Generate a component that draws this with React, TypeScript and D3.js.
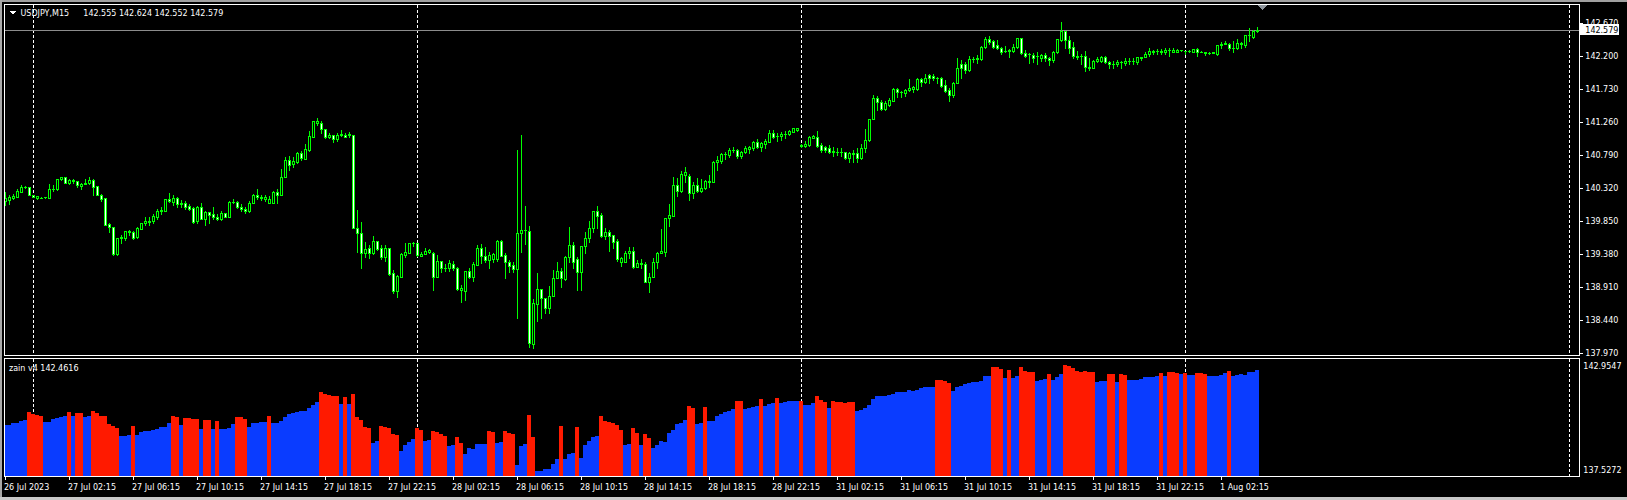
import React from 'react';
import * as d3 from 'd3';

// ---- OHLC of USDJPY M15 (bar 0 = 26 Jul 22:15) ----
const openP = [
140.144,140.153,140.182,140.201,140.272,140.334,140.334,140.220,140.177,140.187,
140.191,140.182,140.305,140.305,140.448,140.476,140.391,140.438,140.419,140.353,
140.381,140.391,140.438,140.353,140.225,140.182,139.812,139.764,139.384,139.607,
139.612,139.707,139.698,139.622,139.745,139.821,139.840,139.850,139.906,140.001,
140.001,140.163,140.125,140.177,140.096,140.115,140.068,140.039,139.850,140.049,
139.888,139.978,139.954,139.916,139.888,139.963,139.916,140.125,140.125,140.058,
140.030,139.992,140.115,140.229,140.191,140.163,140.115,140.115,140.267,140.229,
140.486,140.723,140.666,140.699,140.827,140.742,140.865,141.055,141.245,141.255,
141.160,141.046,141.074,141.027,141.074,141.084,141.074,141.074,139.750,139.688,
139.394,139.470,139.394,139.565,139.470,139.346,139.470,139.109,138.862,139.062,
139.375,139.403,139.536,139.536,139.361,139.389,139.418,139.394,139.062,139.285,
139.180,139.180,139.237,139.190,138.867,138.857,139.142,139.062,139.228,139.465,
139.361,139.299,139.313,139.313,139.569,139.370,139.275,139.228,139.171,139.679,
139.721,139.712,138.098,138.668,138.886,138.753,138.620,138.782,139.047,139.142,
139.028,139.346,139.512,139.313,139.123,139.494,139.617,139.759,139.997,139.940,
139.645,139.693,139.655,139.569,139.275,139.275,139.394,139.427,139.204,139.251,
139.237,138.981,139.062,139.266,139.394,139.408,139.902,139.930,140.367,140.281,
140.509,140.500,140.248,140.367,140.281,140.320,140.405,140.405,140.690,140.709,
140.804,140.794,140.865,140.865,140.785,140.832,140.880,140.889,140.975,140.913,
140.955,140.984,141.102,141.069,141.069,141.098,141.098,141.126,141.150,140.937,
140.927,140.937,141.041,141.055,140.937,140.908,140.899,140.842,140.842,140.842,
140.832,140.747,140.818,140.818,140.747,140.889,141.008,141.307,141.601,141.544,
141.449,141.506,141.563,141.734,141.687,141.672,141.720,141.734,141.734,141.877,
141.829,141.929,141.924,141.896,141.896,141.791,141.720,141.649,141.815,142.085,
142.085,142.005,142.161,142.161,142.161,142.337,142.446,142.418,142.361,142.313,
142.275,142.275,142.275,142.337,142.456,142.242,142.228,142.218,142.209,142.180,
142.218,142.180,142.147,142.256,142.432,142.560,142.432,142.337,142.209,142.209,
142.209,142.052,142.038,142.133,142.133,142.195,142.123,142.085,142.085,142.114,
142.100,142.133,142.133,142.123,142.190,142.195,142.228,142.270,142.275,142.266,
142.256,142.290,142.266,142.256,142.285,142.275,142.280,142.266,142.304,142.266,
142.256,142.242,142.242,142.228,142.361,142.370,142.370,142.323,142.323,142.385,
142.361,142.503,142.479,142.555];

const highP = [
140.272,140.225,140.234,140.305,140.362,140.357,140.343,140.229,140.210,140.191,
140.196,140.381,140.362,140.457,140.486,140.486,140.448,140.457,140.429,140.400,
140.448,140.476,140.448,140.353,140.239,140.187,139.831,139.764,139.612,139.650,
139.717,139.726,139.707,139.774,139.831,139.906,139.906,139.954,140.030,140.049,
140.163,140.248,140.225,140.191,140.153,140.139,140.096,140.058,140.068,140.106,
139.992,139.987,140.049,139.954,139.992,139.973,140.144,140.172,140.144,140.096,
140.058,140.134,140.239,140.315,140.229,140.220,140.210,140.277,140.315,140.590,
140.770,140.780,140.770,140.837,140.846,140.951,141.131,141.274,141.321,141.274,
141.169,141.112,141.084,141.103,141.150,141.103,141.122,141.084,140.011,139.840,
139.555,139.508,139.641,139.574,139.517,139.508,139.470,139.156,139.090,139.394,
139.546,139.536,139.555,139.536,139.408,139.465,139.455,139.408,139.370,139.285,
139.237,139.299,139.285,139.204,138.943,139.142,139.190,139.275,139.512,139.522,
139.484,139.418,139.394,139.584,139.584,139.394,139.299,139.275,140.865,141.079,
140.073,139.788,138.743,139.109,138.886,138.753,138.933,139.156,139.275,139.180,
139.361,139.769,139.551,139.346,139.494,139.693,139.854,139.997,140.063,139.963,
139.750,139.726,139.655,139.598,139.341,139.427,139.489,139.489,139.299,139.313,
139.266,139.109,139.323,139.418,139.740,139.892,140.092,140.486,140.471,140.566,
140.628,140.519,140.405,140.462,140.452,140.438,140.509,140.709,140.785,140.818,
140.842,140.899,140.908,140.880,140.851,140.927,140.927,140.994,141.022,140.984,
141.022,141.150,141.150,141.102,141.117,141.136,141.150,141.183,141.183,140.946,
140.994,141.069,141.079,141.136,140.960,140.927,140.937,140.913,140.889,140.889,
140.842,140.842,140.865,140.899,140.946,141.165,141.307,141.649,141.639,141.577,
141.563,141.601,141.744,141.753,141.706,141.734,141.877,141.782,141.886,141.886,
141.943,141.943,141.943,141.910,141.910,141.862,141.753,141.829,142.171,142.147,
142.123,142.209,142.195,142.218,142.351,142.479,142.494,142.432,142.432,142.337,
142.351,142.304,142.370,142.465,142.465,142.290,142.242,142.242,142.256,142.228,
142.242,142.195,142.275,142.446,142.693,142.560,142.494,142.408,142.275,142.228,
142.275,142.180,142.147,142.195,142.209,142.209,142.133,142.133,142.147,142.133,
142.171,142.180,142.171,142.195,142.195,142.256,142.313,142.290,142.304,142.304,
142.313,142.313,142.313,142.304,142.290,142.280,142.290,142.304,142.313,142.275,
142.256,142.256,142.256,142.361,142.399,142.418,142.385,142.418,142.446,142.399,
142.503,142.598,142.574,142.624];

const lowP = [
140.082,140.096,140.163,140.191,140.267,140.324,140.220,140.191,140.172,140.182,
140.187,140.182,140.286,140.300,140.438,140.391,140.386,140.400,140.334,140.305,
140.376,140.381,140.220,140.220,140.144,139.802,139.702,139.375,139.375,139.546,
139.584,139.655,139.593,139.612,139.740,139.802,139.802,139.831,139.888,139.954,
140.001,140.125,140.087,140.049,140.049,140.020,140.011,139.821,139.821,139.878,
139.797,139.831,139.888,139.869,139.869,139.906,139.916,140.106,140.039,140.001,
139.973,139.982,140.115,140.163,140.153,140.144,140.106,140.115,140.115,140.220,
140.486,140.581,140.619,140.685,140.723,140.732,140.856,141.055,141.221,141.103,
141.036,141.036,140.979,140.989,141.065,141.046,141.046,139.750,139.418,139.185,
139.337,139.327,139.384,139.441,139.318,139.289,139.090,138.834,138.767,139.062,
139.346,139.403,139.498,139.361,139.361,139.380,139.399,138.872,139.062,139.123,
139.142,139.142,139.152,138.876,138.696,138.729,139.038,139.000,139.228,139.251,
139.266,139.190,139.266,139.285,139.361,139.047,139.133,139.133,138.468,139.418,
139.522,138.065,138.041,138.430,138.478,138.539,138.539,138.782,139.047,138.919,
139.014,139.275,139.180,138.872,138.872,139.394,139.551,139.693,139.750,139.631,
139.598,139.427,139.465,139.285,139.218,139.266,139.323,139.190,139.204,139.190,
138.981,138.848,139.062,139.190,139.394,139.361,139.788,139.930,140.215,140.272,
140.414,140.153,140.187,140.272,140.272,140.310,140.343,140.405,140.581,140.675,
140.737,140.770,140.842,140.747,140.756,140.823,140.818,140.865,140.899,140.851,
140.889,140.975,141.041,140.994,141.008,141.041,141.079,141.117,141.136,140.913,
140.908,140.927,141.031,140.913,140.842,140.842,140.818,140.785,140.794,140.785,
140.737,140.690,140.699,140.699,140.737,140.832,140.994,141.307,141.435,141.435,
141.435,141.497,141.563,141.625,141.625,141.639,141.706,141.687,141.720,141.782,
141.815,141.815,141.862,141.815,141.767,141.687,141.563,141.625,141.815,141.886,
141.957,141.990,142.123,142.100,142.147,142.323,142.370,142.323,142.304,142.228,
142.256,142.195,142.256,142.323,142.228,142.195,142.100,142.114,142.085,142.133,
142.133,142.076,142.114,142.242,142.418,142.323,142.242,142.171,142.161,142.085,
141.990,142.005,142.038,142.114,142.123,142.100,142.038,142.038,142.066,142.038,
142.076,142.085,142.085,142.085,142.147,142.190,142.209,142.228,142.228,142.228,
142.228,142.209,142.256,142.256,142.280,142.228,142.266,142.266,142.209,142.256,
142.218,142.228,142.242,142.218,142.313,142.370,142.290,142.256,142.304,142.313,
142.337,142.418,142.456,142.552];

const closeP = [
140.177,140.191,140.210,140.282,140.334,140.334,140.229,140.201,140.206,140.187,
140.191,140.305,140.315,140.448,140.476,140.391,140.438,140.429,140.362,140.381,
140.400,140.438,140.343,140.220,140.163,139.802,139.774,139.384,139.612,139.631,
139.707,139.698,139.612,139.754,139.821,139.850,139.850,139.925,139.992,140.011,
140.163,140.134,140.177,140.096,140.106,140.058,140.020,139.840,140.049,139.888,
139.982,139.944,139.906,139.888,139.963,139.916,140.125,140.125,140.049,140.020,
139.992,140.115,140.229,140.191,140.182,140.191,140.172,140.267,140.229,140.486,
140.723,140.647,140.713,140.818,140.751,140.875,141.065,141.274,141.274,141.160,
141.046,141.074,141.027,141.074,141.093,141.055,141.093,139.750,139.688,139.403,
139.451,139.394,139.565,139.460,139.337,139.470,139.099,138.853,139.071,139.384,
139.413,139.536,139.536,139.365,139.385,139.427,139.436,139.062,139.285,139.180,
139.180,139.256,139.190,138.886,138.905,139.142,139.062,139.237,139.465,139.361,
139.299,139.370,139.380,139.569,139.361,139.275,139.218,139.171,139.679,139.721,
139.726,138.112,138.682,138.886,138.763,138.620,138.782,139.047,139.142,139.038,
139.346,139.512,139.266,139.123,139.494,139.617,139.759,139.997,139.930,139.645,
139.693,139.645,139.560,139.313,139.323,139.394,139.427,139.204,139.251,139.242,
138.981,139.062,139.266,139.394,139.427,139.892,139.940,140.367,140.281,140.519,
140.547,140.248,140.367,140.281,140.320,140.424,140.424,140.690,140.723,140.804,
140.804,140.865,140.870,140.785,140.832,140.899,140.908,140.975,140.913,140.960,
140.994,141.102,141.055,141.064,141.098,141.098,141.136,141.174,141.174,140.920,
140.955,141.055,141.069,140.927,140.865,140.865,140.832,140.856,140.842,140.837,
140.747,140.818,140.813,140.747,140.889,141.008,141.307,141.601,141.544,141.449,
141.530,141.577,141.734,141.687,141.687,141.720,141.753,141.767,141.877,141.829,
141.886,141.896,141.891,141.896,141.782,141.706,141.649,141.815,142.038,142.038,
142.005,142.161,142.166,142.180,142.337,142.446,142.408,142.337,142.313,142.266,
142.270,142.290,142.337,142.456,142.242,142.209,142.228,142.180,142.209,142.218,
142.171,142.147,142.266,142.446,142.560,142.432,142.323,142.209,142.195,142.209,
142.052,142.038,142.133,142.161,142.195,142.114,142.085,142.085,142.123,142.114,
142.133,142.133,142.128,142.190,142.175,142.237,142.275,142.266,142.275,142.275,
142.290,142.290,142.294,142.290,142.285,142.275,142.280,142.304,142.256,142.266,
142.242,142.242,142.256,142.361,142.370,142.385,142.313,142.323,142.385,142.375,
142.503,142.503,142.560,142.579];

// ---- "zain v4" histogram ----
const indVal = [
139.90,139.90,139.99,139.99,140.07,140.11,140.49,140.40,140.36,140.31,
140.03,140.03,140.17,140.22,140.26,140.31,140.49,140.31,140.45,140.45,
140.26,140.31,140.54,140.45,140.31,140.31,139.94,139.85,139.76,139.39,
139.39,139.42,139.85,139.44,139.58,139.62,139.62,139.67,139.71,139.79,
139.79,139.99,140.31,140.25,139.90,140.22,140.22,140.17,140.17,139.71,
140.13,140.13,139.71,140.08,139.71,139.71,139.76,139.94,140.26,140.26,
140.17,139.81,139.99,139.99,140.03,140.03,140.31,139.99,139.99,140.08,
140.26,140.40,140.45,140.49,140.54,140.54,140.68,140.81,140.95,141.41,
141.32,141.27,141.23,141.23,140.86,141.18,140.86,141.32,140.26,140.13,
139.81,139.76,139.07,139.16,139.85,139.81,139.76,139.48,139.44,138.71,
138.98,139.12,139.26,139.76,139.67,139.16,139.21,139.62,139.58,139.48,
139.39,138.93,138.98,139.35,139.07,138.57,138.84,138.80,139.03,139.03,
139.03,139.62,139.58,139.09,139.12,139.62,139.53,139.48,138.06,138.93,
139.03,140.36,139.35,137.79,137.79,137.88,137.88,138.11,138.34,139.85,
138.34,138.57,138.61,139.81,138.39,138.98,139.16,139.35,139.39,140.31,
140.08,140.03,139.99,139.90,139.67,138.98,139.03,139.76,139.53,138.98,
139.48,139.30,138.84,138.98,139.16,139.12,139.53,139.67,139.94,139.99,
140.13,140.77,140.68,139.94,139.99,140.72,140.08,140.08,140.31,140.40,
140.49,140.54,140.63,140.99,140.99,140.63,140.68,140.72,140.77,141.09,
140.77,140.84,140.91,141.13,140.91,140.95,140.98,140.99,140.99,140.99,
140.81,140.81,140.91,141.23,141.04,140.95,140.68,140.99,140.95,140.95,
140.91,140.95,140.95,140.54,140.59,140.68,140.81,141.09,141.23,141.23,
141.23,141.27,141.32,141.41,141.41,141.41,141.50,141.46,141.50,141.58,
141.62,141.64,141.64,141.96,141.96,141.91,141.82,141.46,141.64,141.69,
141.78,141.82,141.87,141.87,141.91,142.14,142.14,142.56,142.56,142.46,
142.05,142.42,142.05,142.14,142.56,142.37,142.33,142.33,141.91,141.96,
142.01,142.23,141.96,142.10,142.23,142.65,142.60,142.51,142.37,142.33,
142.37,142.33,142.33,141.87,141.91,141.91,142.23,142.23,141.87,142.23,
142.19,141.96,141.96,141.96,142.01,142.10,142.10,142.10,142.14,142.28,
142.14,142.33,142.33,142.28,142.23,142.28,142.19,142.19,142.28,142.28,
142.23,142.14,142.14,142.14,142.19,142.28,142.37,142.14,142.19,142.23,
142.19,142.33,142.33,142.42];

// R = red buffer, B = blue buffer
const indColor =
  'BBBBBBRRRR' + 'BBBBBBRBRR' + 'BBRRRRRRRB' + 'BBRBBBBBBB' + 'BBRRBRRRRB' +
  'RRBRBBBBRR' + 'RBBBBBRBBB' + 'BBBBBBBBBR' + 'RRRRBRBRRR' + 'RRBBRRRRRB' +
  'BBBRRBBRRR' + 'RBBRRBBBBB' + 'BRRBBRRRBB' + 'BRRBBBBBBR' + 'BBBRBBBBBR' +
  'RRRRRBBRRB' + 'RRBBBBBBBB' + 'BRRBBRBBBB' + 'BBBRRBBBBR' + 'BBBRBBBBBR' +
  'BBBRRRBRRR' + 'RRRBBBBBBB' + 'BBBBBBBBBB' + 'BBBRRRRBBB' + 'BBBBBBBRRR' +
  'BRBBRRRRBB' + 'BRBBBRRRRR' + 'RRRBBBRRBR' + 'RBBBBBBBBR' + 'BRRRBRBBRR' +
  'RBBBBBRBBB' + 'BBBB';

const priceTicks = [142.67, 142.2, 141.73, 141.26, 140.79, 140.32, 139.85, 139.38, 138.91, 138.44, 137.97];
const timeLabels = ['26 Jul 2023', '27 Jul 02:15', '27 Jul 06:15', '27 Jul 10:15', '27 Jul 14:15',
  '27 Jul 18:15', '27 Jul 22:15', '28 Jul 02:15', '28 Jul 06:15', '28 Jul 10:15', '28 Jul 14:15',
  '28 Jul 18:15', '28 Jul 22:15', '31 Jul 02:15', '31 Jul 06:15', '31 Jul 10:15', '31 Jul 14:15',
  '31 Jul 18:15', '31 Jul 22:15', '1 Aug 02:15'];
const timeLabelBars = [0, 16, 32, 48, 64, 80, 96, 112, 128, 144, 160, 176, 192, 208, 224, 240, 256, 272, 288, 304];
const separatorBars = [7, 103, 199, 295, 391];
const indMax = 142.9547;
const indMin = 137.5272;
const lastPrice = 142.579;

const GREEN = '#00ff00';
const BLUE = '#0a3cff';
const RED = '#ff1a00';
const FONT = '"DejaVu Sans", Verdana, sans-serif';

export default function App() {
  const W = 1627, H = 500;
  const N = closeP.length;
  const x = d3.scaleLinear().domain([0, N - 1]).range([5, 5 + 4 * (N - 1)]);
  const y = d3.scaleLinear().domain([137.97, 142.67]).range([353.3, 23.3]);
  const yi = d3.scaleLinear().domain([indMin, indMax]).range([476.7, 358.3]);

  const candles = d3.range(N).map(i => {
    const c = Math.round(x(i));
    const yo = Math.round(y(openP[i]));
    const yc = Math.round(y(closeP[i]));
    const yh = Math.round(y(highP[i]));
    const yl = Math.round(y(lowP[i]));
    const top = Math.min(yo, yc), bot = Math.max(yo, yc);
    const bull = closeP[i] >= openP[i];
    return (
      <g key={i}>
        <rect x={c} y={yh} width={1} height={Math.max(1, yl - yh + 1)} fill={GREEN} />
        {bot - top < 1 ? (
          <rect x={c - 1} y={yo} width={3} height={1} fill={GREEN} />
        ) : (
          <rect x={c - 0.5} y={top + 0.5} width={2} height={bot - top} fill={bull ? '#000' : '#fff'} stroke={GREEN} strokeWidth={1} />
        )}
      </g>
    );
  });

  const hist = d3.range(N).map(i => {
    const c = Math.round(x(i));
    const t = Math.round(yi(indVal[i]));
    return <rect key={i} x={c - 2} y={t} width={4} height={477 - t} fill={indColor[i] === 'R' ? RED : BLUE} />;
  });

  const lpY = Math.round(y(lastPrice));

  return (
    <svg width={W} height={H} style={{ position: 'absolute', left: 0, top: 0, display: 'block' }}
      fontFamily={FONT} shapeRendering="crispEdges">
      <defs>
        <clipPath id="mainClip"><rect x={5} y={5} width={1574} height={350} /></clipPath>
        <clipPath id="indClip"><rect x={5} y={359} width={1574} height={117} /></clipPath>
      </defs>
      <rect x={0} y={0} width={W} height={H} fill="#000" />
      <rect x={0} y={0} width={W} height={2} fill="#a0a0a0" />
      <rect x={0} y={0} width={2} height={H} fill="#a8a8a8" />
      <rect x={0} y={497} width={W} height={3} fill="#c8c8c8" />

      {/* separators */}
      {separatorBars.map(b => {
        const sx = Math.round(x(b)) + 0.5;
        return (
          <g key={b} stroke="#fff" strokeWidth={1} strokeDasharray="3,2">
            <line x1={sx} x2={sx} y1={5} y2={355} />
            <line x1={sx} x2={sx} y1={359} y2={476} />
          </g>
        );
      })}

      {/* main chart */}
      <line x1={5} x2={1579} y1={lpY + 0.5} y2={lpY + 0.5} stroke="#8c8c8c" />
      <g clipPath="url(#mainClip)">{candles}</g>
      <polygon points="1258,5 1267,5 1262.5,10" fill="#8e959c" />

      {/* indicator */}
      <g clipPath="url(#indClip)">{hist}</g>

      {/* frames */}
      <rect x={4.5} y={4.5} width={1575} height={351} fill="none" stroke="#fff" />
      <rect x={4.5} y={358.5} width={1575} height={118} fill="none" stroke="#fff" />

      {/* header */}
      <polygon points="10,11 16,11 13,14.5" fill="#fff" />
      <text x={20.5} y={15.7} fill="#fff" fontSize={8}>USDJPY,M15</text>
      <text x={83.3} y={15.7} fill="#fff" fontSize={8}>142.555 142.624 142.552 142.579</text>
      <text x={9} y={370.5} fill="#fff" fontSize={8}>zain v4 142.4616</text>

      {/* price axis */}
      {priceTicks.map(p => {
        const ty = Math.round(y(p));
        return (
          <g key={p}>
            <line x1={1580} x2={1583} y1={ty + 0.5} y2={ty + 0.5} stroke="#fff" />
            <text x={1585.3} y={ty + 3} fill="#fff" fontSize={8}>{p.toFixed(3)}</text>
          </g>
        );
      })}
      <rect x={1580} y={lpY - 6} width={39} height={11} fill="#fff" />
      <text x={1585.3} y={lpY + 3} fill="#000" fontSize={8}>{lastPrice.toFixed(3)}</text>
      <text x={1583.3} y={368.6} fill="#fff" fontSize={8}>{indMax.toFixed(4)}</text>
      <text x={1583.3} y={473.4} fill="#fff" fontSize={8}>{indMin.toFixed(4)}</text>

      {/* time axis */}
      {timeLabelBars.map((b, k) => {
        const tx = Math.round(x(b));
        return (
          <g key={b}>
            <line x1={tx + 0.5} x2={tx + 0.5} y1={477} y2={480} stroke="#fff" />
            <text x={tx - 1} y={489.5} fill="#fff" fontSize={8}>{timeLabels[k]}</text>
          </g>
        );
      })}
    </svg>
  );
}
